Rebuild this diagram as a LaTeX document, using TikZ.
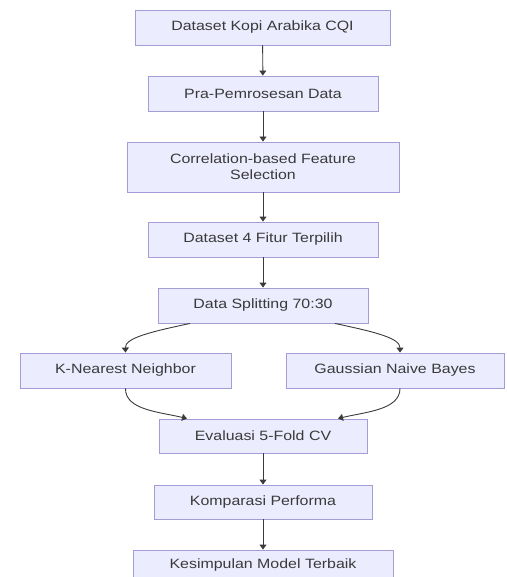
\documentclass[tikz,border=0pt]{standalone}
\usepackage{fontspec}
\setmainfont{Liberation Sans}[FakeStretch=1.18]
\usetikzlibrary{arrows.meta}
\definecolor{boxfill}{HTML}{ECECFF}
\definecolor{boxdraw}{HTML}{A49CD6}
\definecolor{txt}{HTML}{3A3A3A}
\definecolor{edge}{HTML}{3A3A3A}
\tikzset{
  flowbox/.style={draw=boxdraw, fill=boxfill, line width=0.9pt, inner sep=0pt,
    text=txt, font=\fontsize{13.5}{16}\selectfont, align=center},
  conn/.style={draw=edge, line width=0.9pt, -{Triangle[length=5pt,width=7pt]}}
}
\begin{document}
\begin{tikzpicture}[x=1pt,y=-1pt]
\useasboundingbox (0,0) rectangle (506,577);
\node[flowbox, minimum width=255pt, minimum height=35pt] (n1) at (262.5,27.5) {Dataset Kopi Arabika CQI};
\node[flowbox, minimum width=230pt, minimum height=35pt] (n2) at (263,93.5) {Pra-Pemrosesan Data};
\node[flowbox, minimum width=272pt, minimum height=50pt] (n3) at (263,167) {Correlation-based Feature\\Selection};
\node[flowbox, minimum width=230pt, minimum height=35pt] (n4) at (263,239.5) {Dataset 4 Fitur Terpilih};
\node[flowbox, minimum width=210pt, minimum height=35pt] (n5) at (263,305.5) {Data Splitting 70:30};
\node[flowbox, minimum width=211pt, minimum height=35pt] (n6) at (125.5,370.5) {K-Nearest Neighbor};
\node[flowbox, minimum width=218pt, minimum height=35pt] (n7) at (395,370.5) {Gaussian Naive Bayes};
\node[flowbox, minimum width=208pt, minimum height=34pt] (n8) at (263,436) {Evaluasi 5-Fold CV};
\node[flowbox, minimum width=218pt, minimum height=34pt] (n9) at (263,502) {Komparasi Performa};
\node[flowbox, minimum width=260pt, minimum height=30pt] (n10) at (263,565) {Kesimpulan Model Terbaik};
\draw[conn] (n1) -- (n2);
\draw[conn] (n2) -- (n3);
\draw[conn] (n3) -- (n4);
\draw[conn] (n4) -- (n5);
\coordinate (s1) at ([xshift=-73pt]n5.south);
\coordinate (s2) at ([xshift=72pt]n5.south);
\draw[conn] (s1) .. controls (150,332) and (125,338) .. (n6.north);
\draw[conn] (s2) .. controls (375,332) and (400,338) .. ([xshift=5pt]n7.north);
\coordinate (e1) at ([xshift=-76pt]n8.north);
\coordinate (e2) at ([xshift=75pt]n8.north);
\draw[conn] (n6.south) .. controls (125,410) and (160,412) .. (e1);
\draw[conn] ([xshift=5pt]n7.south) .. controls (400,410) and (365,412) .. (e2);
\draw[conn] (n8) -- (n9);
\draw[conn] (n9) -- (n10);
\end{tikzpicture}
\end{document}
